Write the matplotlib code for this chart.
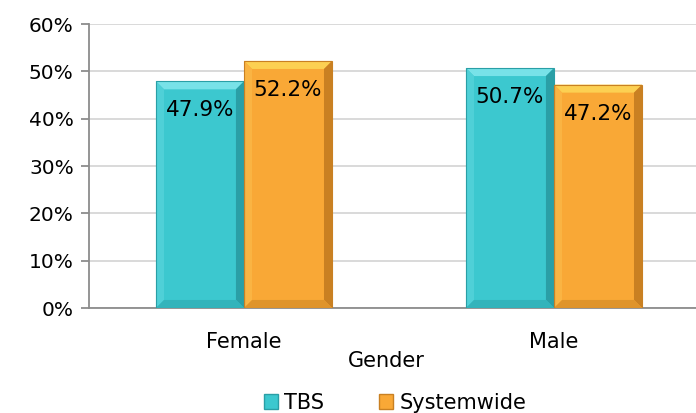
import numpy as np
import matplotlib
matplotlib.use('Agg')
import matplotlib.pyplot as plt
from matplotlib.patches import Polygon, Rectangle
from matplotlib.ticker import PercentFormatter

# data
categories = ['Female', 'Male']
tbs = [47.9, 50.7]
systemwide = [52.2, 47.2]
series_names = ['TBS', 'Systemwide']

plt.rcParams['font.family'] = ['DejaVu Sans']

teal = dict(face='#3cc8cf', top='#78e2e8', left='#4fd0d7', right='#2a9fa6', bottom='#33b4bb')
orange = dict(face='#f9a836', top='#fcd052', left='#fab443', right='#c98022', bottom='#df942b')


def bevel_bar(ax, x, w, h, c, bx, by):
    ax.add_patch(Rectangle((x, 0), w, h, facecolor=c['face'], edgecolor='none', zorder=3))
    pts = {
        'top': [(x, h), (x + w, h), (x + w - bx, h - by), (x + bx, h - by)],
        'left': [(x, 0), (x, h), (x + bx, h - by), (x + bx, by)],
        'right': [(x + w, 0), (x + w, h), (x + w - bx, h - by), (x + w - bx, by)],
        'bottom': [(x, 0), (x + w, 0), (x + w - bx, by), (x + bx, by)],
    }
    for k, p in pts.items():
        ax.add_patch(Polygon(p, closed=True, facecolor=c[k], edgecolor='none', zorder=3))
    ax.add_patch(Rectangle((x, 0), w, h, facecolor='none', edgecolor=c['right'],
                           linewidth=0.8, zorder=4))


fig = plt.figure(figsize=(6.96, 4.13), dpi=100)
ax = fig.add_axes([89 / 696, 105 / 413, 620 / 696, 284 / 413])

x = np.arange(len(categories))
w = 0.284
bx, by = 0.026, 1.7
for i in x:
    bevel_bar(ax, i - w, w, tbs[i], teal, bx, by)
    bevel_bar(ax, i, w, systemwide[i], orange, bx, by)
    ax.annotate(f'{tbs[i]:.1f}%', (i - w / 2, tbs[i]), xytext=(0, -21),
                textcoords='offset points', ha='center', va='center', fontsize=15.5, zorder=5)
    ax.annotate(f'{systemwide[i]:.1f}%', (i + w / 2, systemwide[i]), xytext=(0, -21),
                textcoords='offset points', ha='center', va='center', fontsize=15.5, zorder=5)

ax.set_xlim(-0.5, 1.5)
ax.set_ylim(0, 60)
ax.set_yticks(np.arange(0, 61, 10))
ax.yaxis.set_major_formatter(PercentFormatter(decimals=0))
ax.set_xticks(x)
ax.set_xticklabels(categories)
ax.grid(axis='y', color='#d9d9d9', linewidth=1.4, zorder=0)
ax.set_axisbelow(True)
for s in ['top', 'right']:
    ax.spines[s].set_visible(False)
ax.spines['left'].set_color('#8c8c8c')
ax.spines['bottom'].set_color('#8c8c8c')
ax.spines['left'].set_linewidth(1.3)
ax.spines['bottom'].set_linewidth(1.3)
ax.tick_params(axis='y', length=6, width=1.3, color='#8c8c8c', labelsize=14.5, pad=5)
ax.tick_params(axis='x', length=0, labelsize=15, pad=17)

fig.text(386 / 696, 52 / 413, 'Gender', ha='center', va='center', fontsize=15)

handles = [Rectangle((0, 0), 1, 1, facecolor=teal['face'], edgecolor=teal['right']),
           Rectangle((0, 0), 1, 1, facecolor=orange['face'], edgecolor=orange['right'])]
fig.legend(handles, series_names, loc='center', bbox_to_anchor=(395 / 696, 10 / 413),
           ncol=2, frameon=False, fontsize=15, handlelength=0.7, handleheight=0.7,
           handletextpad=0.3, columnspacing=2.6)

fig.savefig('out.png', dpi=100)
